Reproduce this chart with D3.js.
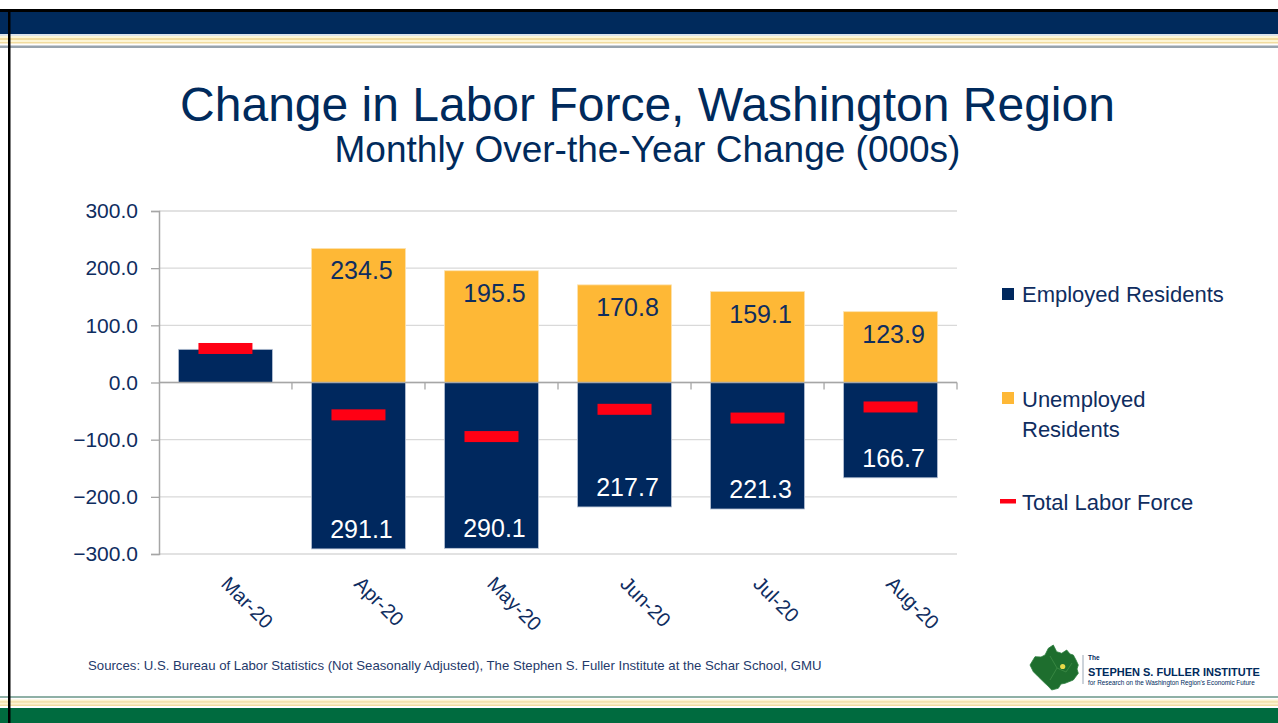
<!DOCTYPE html>
<html><head><meta charset="utf-8">
<script src="https://cdn.jsdelivr.net/npm/d3@7/dist/d3.min.js"></script>
<style>
html,body{margin:0;padding:0;background:#fff;}
svg{display:block;font-family:"Liberation Sans",Arial,sans-serif;}
</style></head>
<body><svg id="c" width="1278" height="723"></svg>
<script>
const months = ["Mar-20","Apr-20","May-20","Jun-20","Jul-20","Aug-20"];
const employed = [58.0, -291.1, -290.1, -217.7, -221.3, -166.7];
const unemployed = [null, 234.5, 195.5, 170.8, 159.1, 123.9];
const totalLaborForce = [59.5, -56.6, -94.6, -46.9, -62.2, -42.8];
const yTicks = [300, 200, 100, 0, -100, -200, -300];
const legendItems = ["Employed Residents", "Unemployed Residents", "Total Labor Force"];

const NAVY = "#002a5c", BAR_NAVY = "#00285e", ORANGE = "#feb836", RED = "#ff0014", TXT = "#0f2d5f";
const svg = d3.select("#c");

// fit a text's font size so its natural width equals target
function fitWidth(sel, target){
  const n = sel.node(); const fs = parseFloat(sel.attr("font-size"));
  const w = n.getComputedTextLength();
  if (w > 0) sel.attr("font-size", fs * target / w);
  return sel;
}

// ---- frame / decorative bands ----
svg.append("rect").attr("x",0).attr("y",9).attr("width",1278).attr("height",3).attr("fill","#000");
svg.append("rect").attr("x",0).attr("y",12).attr("width",1278).attr("height",22).attr("fill","#002a5c");
const topStripes = [[34,2,"#dce4ec"],[36,2,"#fdf6d6"],[38,2,"#f1dc9f"],[40,2,"#fdf6d6"],[42,1.5,"#f1dc9f"],[45.5,2.5,"#97a3ad"]];
topStripes.forEach(s=>svg.append("rect").attr("x",0).attr("y",s[0]).attr("width",1278).attr("height",s[1]).attr("fill",s[2]));
const botStripes = [[696,2,"#8fb0a6"],[699.5,1.7,"#fdf3d0"],[701.2,1.6,"#f1dc9f"],[702.8,1.6,"#fdf3d0"],[704.4,1.6,"#f1dc9f"],[708,15,"#006b3f"]];
botStripes.forEach(s=>svg.append("rect").attr("x",0).attr("y",s[0]).attr("width",1278).attr("height",s[1]).attr("fill",s[2]));
svg.append("rect").attr("x",8).attr("y",9).attr("width",2.5).attr("height",714).attr("fill","#000");

// ---- titles ----
svg.append("text").attr("x",647.5).attr("y",121).attr("text-anchor","middle")
  .attr("font-size",48).attr("fill",NAVY).text("Change in Labor Force, Washington Region");
svg.append("text").attr("x",647.5).attr("y",162).attr("text-anchor","middle")
  .attr("font-size",37).attr("fill",NAVY).text("Monthly Over-the-Year Change (000s)");

// ---- scales ----
const x = d3.scaleBand().domain(months).range([159,957]).paddingInner(0.293).paddingOuter(0.146);
const y = d3.scaleLinear().domain([-300,300]).range([554,211]);

// gridlines
svg.append("g").selectAll("line").data(yTicks).join("line")
  .attr("x1",159).attr("x2",957).attr("y1",d=>y(d)).attr("y2",d=>y(d))
  .attr("stroke","#d9d9d9").attr("stroke-width",1.3);

// y axis
const yAxis = svg.append("g").attr("transform","translate(159,0)")
  .call(d3.axisLeft(y).tickValues(yTicks).tickSize(8).tickPadding(13).tickFormat(d3.format(".1f")));
yAxis.select(".domain").attr("stroke","#a6a6a6").attr("stroke-width",1.5);
yAxis.selectAll(".tick line").attr("stroke","#a6a6a6").attr("stroke-width",1.3);
yAxis.selectAll(".tick text").attr("font-size",21).attr("fill",TXT)
  .attr("font-family","'Liberation Sans',Arial,sans-serif");

// bars - employed
svg.append("g").selectAll("rect").data(months).join("rect")
  .attr("x",d=>x(d)).attr("width",x.bandwidth())
  .attr("y",(d,i)=>y(Math.max(0,employed[i])))
  .attr("height",(d,i)=>Math.abs(y(employed[i])-y(0)))
  .attr("fill",BAR_NAVY).attr("stroke","#b9c4d6").attr("stroke-width",0.8);
// bars - unemployed
svg.append("g").selectAll("rect").data(months.filter((d,i)=>unemployed[i]!=null)).join("rect")
  .attr("x",d=>x(d)).attr("width",x.bandwidth())
  .attr("y",d=>y(unemployed[months.indexOf(d)]))
  .attr("height",d=>y(0)-y(unemployed[months.indexOf(d)]))
  .attr("fill",ORANGE).attr("stroke","#fde3b0").attr("stroke-width",0.8);

// x axis line at zero + boundary ticks
svg.append("line").attr("x1",159).attr("x2",957).attr("y1",y(0)).attr("y2",y(0))
  .attr("stroke","#a6a6a6").attr("stroke-width",1.5);
const bounds = months.map(m=>x(m)-x.step()*x.paddingInner()/2).concat([957]);
svg.append("g").selectAll("line").data(bounds.slice(1)).join("line")
  .attr("x1",d=>d).attr("x2",d=>d).attr("y1",y(0)).attr("y2",y(0)+7)
  .attr("stroke","#a6a6a6").attr("stroke-width",1.3);

// data labels
svg.append("g").selectAll("text").data(months.filter((d,i)=>unemployed[i]!=null)).join("text")
  .attr("x",d=>x(d)+x.bandwidth()/2+3).attr("y",d=>y(unemployed[months.indexOf(d)])+31)
  .attr("text-anchor","middle").attr("font-size",25).attr("fill",TXT)
  .text(d=>d3.format(".1f")(unemployed[months.indexOf(d)]));
svg.append("g").selectAll("text").data(months.filter((d,i)=>employed[i]<0)).join("text")
  .attr("x",d=>x(d)+x.bandwidth()/2+3).attr("y",d=>y(employed[months.indexOf(d)])-11)
  .attr("text-anchor","middle").attr("font-size",25).attr("fill","#fff")
  .text(d=>d3.format(".1f")(Math.abs(employed[months.indexOf(d)])));

// total labor force markers
svg.append("g").selectAll("rect").data(months).join("rect")
  .attr("x",d=>x(d)+x.bandwidth()/2-27).attr("width",54)
  .attr("y",(d,i)=>y(totalLaborForce[i])-5.5).attr("height",11)
  .attr("fill",RED);

// x labels
svg.append("g").selectAll("text").data(months).join("text")
  .attr("transform",d=>`translate(${x(d)+x.bandwidth()/2-5.5},585) rotate(45)`)
  .attr("font-size",20).attr("fill",TXT).text(d=>d);

// legend
const lg = svg.append("g");
lg.append("rect").attr("x",1002).attr("y",288).attr("width",12).attr("height",12).attr("fill",BAR_NAVY);
lg.append("text").attr("x",1022).attr("y",302).attr("font-size",22).attr("fill",TXT).text(legendItems[0]);
lg.append("rect").attr("x",1002).attr("y",392).attr("width",12).attr("height",12).attr("fill",ORANGE);
const t2 = lg.append("text").attr("x",1022).attr("y",407).attr("font-size",22).attr("fill",TXT);
t2.append("tspan").attr("x",1022).text(legendItems[1].split(" ")[0]);
t2.append("tspan").attr("x",1022).attr("dy",30).text(legendItems[1].split(" ")[1]);
lg.append("rect").attr("x",1000).attr("y",499).attr("width",16).attr("height",4.5).attr("fill",RED);
lg.append("text").attr("x",1022).attr("y",510).attr("font-size",22).attr("fill",TXT).text(legendItems[2]);

// sources
fitWidth(svg.append("text").attr("x",88).attr("y",670).attr("font-size",14)
  .attr("font-family","'Liberation Sans Narrow','Liberation Sans',Arial,sans-serif")
  .attr("fill","#1f3a6b")
  .text("Sources: U.S. Bureau of Labor Statistics (Not Seasonally Adjusted), The Stephen S. Fuller Institute at the Schar School, GMU"), 734);

// logo
const logoPts = [[1030,665],[1035,656.7],[1041,657],[1045,655],[1048.3,648.3],[1053.3,645],[1056.7,651.7],[1061.7,653.3],[1066.7,650],[1070,654],[1073.3,655],[1076,660],[1078.3,665],[1077,669],[1078.3,673.3],[1073.3,680],[1065,683.3],[1061,684],[1058.3,688.3],[1051.7,690],[1048,686],[1045,683.3],[1038.3,676.7],[1033.3,671.7]];
svg.append("path").attr("d",d3.line().curve(d3.curveLinearClosed)(logoPts))
  .attr("fill","#1e6e2e").attr("stroke","#2f8040").attr("stroke-width",0.8);
svg.append("path").attr("d","M1050,656 L1057,668 L1066,672 M1057,668 L1050,680 M1066,672 L1072,663")
  .attr("stroke","#3d8c46").attr("stroke-width",0.8).attr("fill","none");
svg.append("circle").attr("cx",1062.7).attr("cy",666.5).attr("r",2.6).attr("fill","#e8d94a");
svg.append("line").attr("x1",1083).attr("x2",1083).attr("y1",655).attr("y2",684).attr("stroke","#9aa7b5").attr("stroke-width",1);
svg.append("text").attr("x",1088).attr("y",660).attr("font-size",6.5).attr("fill",NAVY).attr("font-weight","bold").text("The");
fitWidth(svg.append("text").attr("x",1088).attr("y",676).attr("font-size",15.5).attr("font-weight","bold")
  .attr("font-family","'Liberation Sans Narrow','Liberation Sans',Arial,sans-serif")
  .attr("fill",NAVY).text("STEPHEN S. FULLER INSTITUTE"), 172);
fitWidth(svg.append("text").attr("x",1088).attr("y",685).attr("font-size",7.5)
  .attr("font-family","'Liberation Sans Narrow','Liberation Sans',Arial,sans-serif")
  .attr("fill",NAVY)
  .text("for Research on the Washington Region's Economic Future"), 167);
</script></body></html>
